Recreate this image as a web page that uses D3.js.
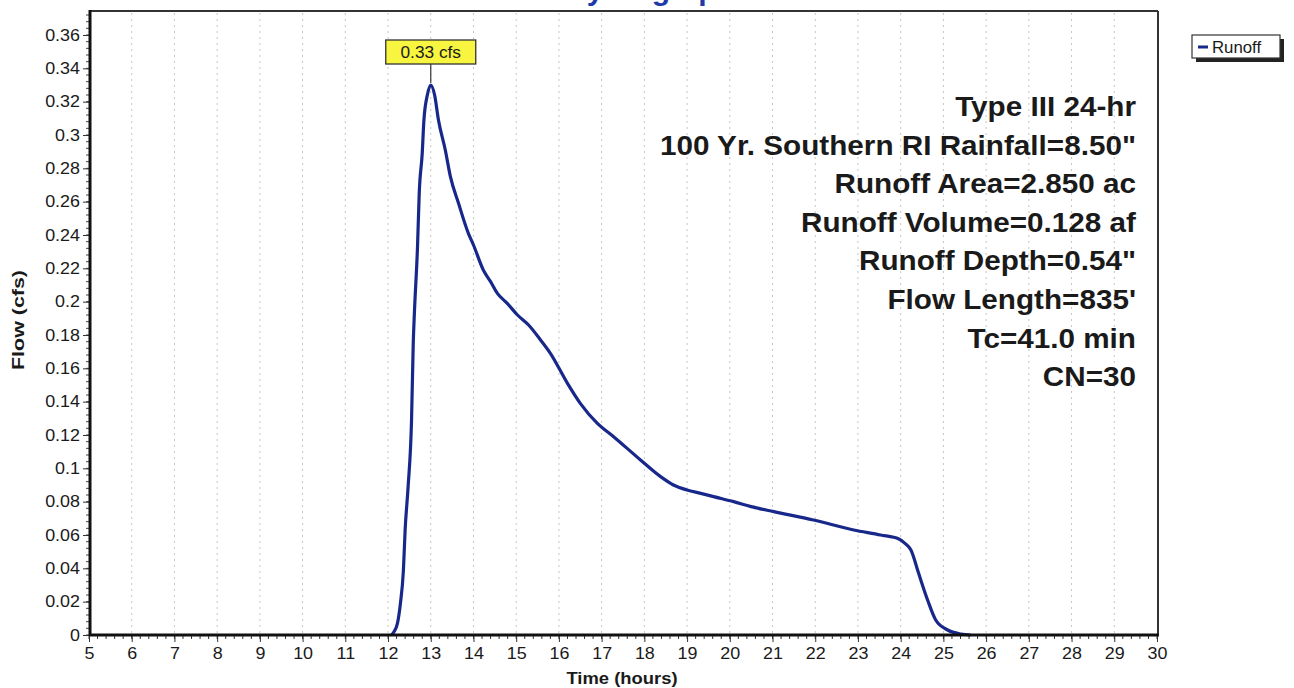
<!DOCTYPE html>
<html>
<head>
<meta charset="utf-8">
<script src="https://cdn.jsdelivr.net/npm/d3@7"></script>
<style>
  html, body { margin: 0; padding: 0; background: #fff; }
  svg { display: block; }
  text { font-family: "Liberation Sans", Arial, sans-serif; fill: #1a1a1a; }
</style>
</head>
<body>
<svg id="chart" width="1294" height="688"></svg>
<script>
// Runoff hydrograph: time (hours) vs flow (cfs)
const timeHours = [12.08, 12.14, 12.22, 12.29, 12.36, 12.40, 12.47, 12.55, 12.59, 12.62, 12.69, 12.73,
  12.80, 12.84, 12.92, 13.00, 13.09, 13.18, 13.34, 13.46, 13.65, 13.88, 14.00, 14.23, 14.40, 14.56,
  14.79, 15.03, 15.29, 15.57, 15.80, 16.20, 16.50, 16.90, 17.28, 17.91, 18.38, 18.68, 19.00, 19.32,
  19.62, 20.09, 20.50, 21.03, 21.96, 22.90, 23.53, 23.96, 24.10, 24.24, 24.42, 24.63, 24.82, 25.10,
  25.41, 25.64];
const flowCfs = [0, 0.002, 0.007, 0.019, 0.039, 0.063, 0.089, 0.129, 0.175, 0.195, 0.233, 0.265,
  0.289, 0.309, 0.324, 0.33, 0.324, 0.309, 0.291, 0.275, 0.259, 0.241, 0.234, 0.219, 0.212, 0.205,
  0.199, 0.192, 0.186, 0.177, 0.169, 0.151, 0.139, 0.127, 0.119, 0.105, 0.095, 0.090, 0.087, 0.085,
  0.083, 0.080, 0.077, 0.074, 0.069, 0.063, 0.060, 0.0576, 0.055, 0.051, 0.037, 0.021, 0.009, 0.003,
  0.0006, 0];

const xTicks = d3.range(5, 31, 1);
const yTicks = [0, 0.02, 0.04, 0.06, 0.08, 0.1, 0.12, 0.14, 0.16, 0.18, 0.2, 0.22, 0.24, 0.26, 0.28,
  0.3, 0.32, 0.34, 0.36];
const yTickLabels = ["0", "0.02", "0.04", "0.06", "0.08", "0.1", "0.12", "0.14", "0.16", "0.18", "0.2",
  "0.22", "0.24", "0.26", "0.28", "0.3", "0.32", "0.34", "0.36"];

const titleText = "Hydrograph";
const seriesName = "Runoff";
const peakUnit = "cfs";
const xLabel = "Time  (hours)";
const yLabel = "Flow  (cfs)";
const notes = [
  "Type III 24-hr",
  "100 Yr. Southern RI Rainfall=8.50\"",
  "Runoff Area=2.850 ac",
  "Runoff Volume=0.128 af",
  "Runoff Depth=0.54\"",
  "Flow Length=835'",
  "Tc=41.0 min",
  "CN=30"
];

const svg = d3.select("#chart");
const plotLeft = 90, plotRight = 1158, plotTop = 11, plotBottom = 635;

const x = d3.scaleLinear().domain([5, 30]).range([89, 1157]);
const y = d3.scaleLinear().domain([0, 0.36]).range([plotBottom, 35]);

// horizontal stretch helper for text about its anchor point
function stretch(sel, k) {
  sel.each(function () {
    const t = d3.select(this);
    const ax = +t.attr("x") || 0;
    const prev = t.attr("transform") || "";
    t.attr("transform", `${prev} translate(${ax},0) scale(${k},1) translate(${-ax},0)`);
  });
}

// title, sitting right at the top edge of the page
svg.append("text")
  .attr("x", 650).attr("y", 0)
  .attr("text-anchor", "middle")
  .style("font-size", "30px").style("font-weight", "bold")
  .style("fill", "#1d3aa8")
  .text(titleText);

// vertical dotted grid at every hour
svg.append("g")
  .selectAll("line")
  .data(xTicks.filter(d => d > 5 && d < 30))
  .join("line")
  .attr("x1", d => x(d)).attr("x2", d => x(d))
  .attr("y1", plotTop + 2).attr("y2", plotBottom - 2)
  .attr("stroke", "#c4c4c4")
  .attr("stroke-width", 1)
  .attr("stroke-dasharray", "2,4");

// minor ticks
const xMinor = d3.range(5, 30.001, 0.2);
svg.append("g")
  .selectAll("line")
  .data(xMinor)
  .join("line")
  .attr("x1", d => x(d)).attr("x2", d => x(d))
  .attr("y1", plotBottom).attr("y2", plotBottom + 4)
  .attr("stroke", "#333").attr("stroke-width", 1);

const yMinor = d3.range(0, 0.3741, 0.004);
svg.append("g")
  .selectAll("line")
  .data(yMinor)
  .join("line")
  .attr("x1", plotLeft - 4).attr("x2", plotLeft)
  .attr("y1", d => y(d)).attr("y2", d => y(d))
  .attr("stroke", "#444").attr("stroke-width", 1);

// axes
const xAxis = svg.append("g")
  .attr("transform", `translate(0,${plotBottom})`)
  .call(d3.axisBottom(x).tickValues(xTicks).tickFormat(d3.format("d")).tickSize(7).tickPadding(6));
const yAxis = svg.append("g")
  .attr("transform", `translate(${plotLeft},0)`)
  .call(d3.axisLeft(y).tickValues(yTicks).tickFormat((d, i) => yTickLabels[i]).tickSize(7).tickPadding(3));

[xAxis, yAxis].forEach(g => {
  g.select(".domain").remove();
  g.selectAll(".tick line").attr("stroke", "#333");
  g.selectAll(".tick text").style("font-size", "16px").style("fill", "#1a1a1a")
    .style("font-family", "'Liberation Sans', Arial, sans-serif");
});
stretch(xAxis.selectAll(".tick text"), 1.12);
stretch(yAxis.selectAll(".tick text"), 1.12);

// plot frame
svg.append("line").attr("x1", plotLeft).attr("x2", plotRight).attr("y1", plotTop).attr("y2", plotTop)
  .attr("stroke", "#333").attr("stroke-width", 2);
svg.append("line").attr("x1", plotRight).attr("x2", plotRight).attr("y1", plotTop).attr("y2", plotBottom)
  .attr("stroke", "#333").attr("stroke-width", 2);

// runoff curve
const pts = timeHours.map((t, i) => [t, flowCfs[i]]);
svg.append("path")
  .datum(pts)
  .attr("fill", "none")
  .attr("stroke", "#18288a")
  .attr("stroke-width", 3.2)
  .attr("stroke-linejoin", "round")
  .attr("d", d3.line().x(d => x(d[0])).y(d => y(d[1])).curve(d3.curveMonotoneX));

// heavy axis lines
svg.append("line").attr("x1", plotLeft).attr("x2", plotRight + 1).attr("y1", plotBottom).attr("y2", plotBottom)
  .attr("stroke", "#111").attr("stroke-width", 3);
svg.append("line").attr("x1", plotLeft).attr("x2", plotLeft).attr("y1", plotTop - 1).attr("y2", plotBottom + 1)
  .attr("stroke", "#111").attr("stroke-width", 3);

// peak callout
const peakIdx = d3.maxIndex(flowCfs);
const px = x(timeHours[peakIdx]), py = y(flowCfs[peakIdx]);
const boxW = 90, boxH = 24, boxY = 40;
svg.append("line").attr("x1", px).attr("x2", px).attr("y1", boxY + boxH).attr("y2", py - 2)
  .attr("stroke", "#333").attr("stroke-width", 1.2);
svg.append("rect").attr("x", px - boxW / 2).attr("y", boxY).attr("width", boxW).attr("height", boxH)
  .attr("fill", "#f7f53f").attr("stroke", "#333").attr("stroke-width", 1.3);
const peakLabel = svg.append("text").attr("x", px).attr("y", boxY + 18)
  .attr("text-anchor", "middle").style("font-size", "16px")
  .text(`${d3.format(".2f")(flowCfs[peakIdx])} ${peakUnit}`);
stretch(peakLabel, 1.08);

// storm/watershed notes
const noteSel = svg.append("g").selectAll("text")
  .data(notes)
  .join("text")
  .attr("x", 1136)
  .attr("y", (d, i) => 116 + i * 38.6)
  .attr("text-anchor", "end")
  .style("font-size", "28px").style("font-weight", "bold").style("fill", "#1a1a1a")
  .text(d => d);
stretch(noteSel, 1.06);

// axis titles
const xt = svg.append("text").attr("x", 622).attr("y", 684).attr("text-anchor", "middle")
  .style("font-size", "16px").style("font-weight", "bold").text(xLabel);
stretch(xt, 1.15);
svg.append("text").attr("transform", "translate(24,320) rotate(-90)")
  .attr("text-anchor", "middle")
  .style("font-size", "16px").style("font-weight", "bold").text(yLabel)
  .attr("textLength", 100).attr("lengthAdjust", "spacingAndGlyphs");

// legend
const lg = svg.append("g").attr("transform", "translate(1192,35)");
lg.append("rect").attr("x", 4).attr("y", 4).attr("width", 88).attr("height", 23).attr("fill", "#222");
lg.append("rect").attr("x", 0).attr("y", 0).attr("width", 88).attr("height", 23)
  .attr("fill", "#fff").attr("stroke", "#333").attr("stroke-width", 1.2);
lg.append("line").attr("x1", 6).attr("x2", 16).attr("y1", 12).attr("y2", 12)
  .attr("stroke", "#18288a").attr("stroke-width", 3);
const lt = lg.append("text").attr("x", 20).attr("y", 18).style("font-size", "16px").text(seriesName);
stretch(lt, 1.05);
</script>
</body>
</html>
